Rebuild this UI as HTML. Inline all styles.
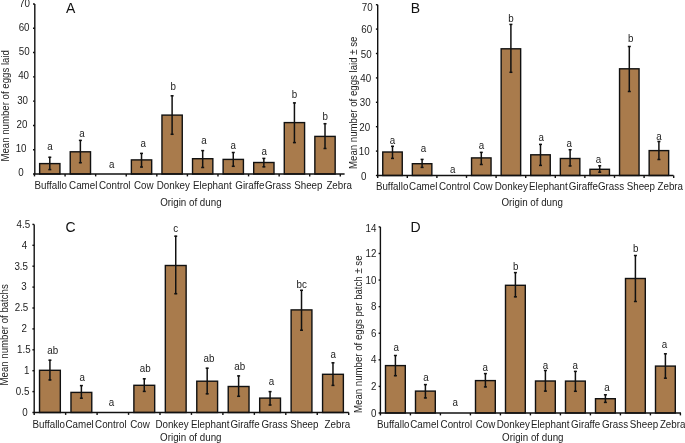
<!DOCTYPE html>
<html><head><meta charset="utf-8"><style>
html,body{margin:0;padding:0;background:#fff;}
body{width:685px;height:443px;overflow:hidden;}
svg{display:block;will-change:transform;}
text{font-family:"Liberation Sans",sans-serif;font-size:9.8px;fill:#222;}
text.l{font-size:9.8px;}
text.y{font-size:9.65px;}
text.p{font-size:14.0px;fill:#111;}
.k{stroke:#111;stroke-width:1.4;fill:none;}
.e{stroke:#111;stroke-width:1.5;fill:none;}
.bar{fill:#A97B4C;stroke:#111;stroke-width:1.4;}
</style></head><body>
<svg width="685" height="443" viewBox="0 0 685 443">
<line x1="34.8" y1="4.0" x2="34.8" y2="174.0" class="k"/>
<line x1="33.00" y1="174.00" x2="34.8" y2="174.00" class="k"/>
<line x1="33.00" y1="149.71" x2="34.8" y2="149.71" class="k"/>
<line x1="33.00" y1="125.43" x2="34.8" y2="125.43" class="k"/>
<line x1="33.00" y1="101.14" x2="34.8" y2="101.14" class="k"/>
<line x1="33.00" y1="76.86" x2="34.8" y2="76.86" class="k"/>
<line x1="33.00" y1="52.57" x2="34.8" y2="52.57" class="k"/>
<line x1="33.00" y1="28.29" x2="34.8" y2="28.29" class="k"/>
<line x1="33.00" y1="4.00" x2="34.8" y2="4.00" class="k"/>
<text transform="translate(20.90,176.45) scale(1,1.07)" text-anchor="middle">0</text>
<text transform="translate(21.10,152.16) scale(1,1.07)" text-anchor="middle">10</text>
<text transform="translate(21.95,127.88) scale(1,1.07)" text-anchor="middle">20</text>
<text transform="translate(22.60,103.59) scale(1,1.07)" text-anchor="middle">30</text>
<text transform="translate(23.60,79.31) scale(1,1.07)" text-anchor="middle">40</text>
<text transform="translate(24.20,55.02) scale(1,1.07)" text-anchor="middle">50</text>
<text transform="translate(24.10,30.74) scale(1,1.07)" text-anchor="middle">60</text>
<text transform="translate(24.60,7.25) scale(1,1.07)" text-anchor="middle">70</text>
<rect x="39.64" y="163.60" width="20.30" height="10.40" class="bar"/>
<line x1="49.79" y1="156.80" x2="49.79" y2="170.10" class="e"/>
<line x1="48.29" y1="157.30" x2="51.29" y2="157.30" class="e"/>
<line x1="48.29" y1="169.60" x2="51.29" y2="169.60" class="e"/>
<text transform="translate(50.00,150.10) scale(1,1.07)" text-anchor="middle" class="l">a</text>
<rect x="70.22" y="151.80" width="20.30" height="22.20" class="bar"/>
<line x1="80.37" y1="139.90" x2="80.37" y2="163.20" class="e"/>
<line x1="78.87" y1="140.40" x2="81.87" y2="140.40" class="e"/>
<line x1="78.87" y1="162.70" x2="81.87" y2="162.70" class="e"/>
<text transform="translate(82.00,136.90) scale(1,1.07)" text-anchor="middle" class="l">a</text>
<text transform="translate(111.60,168.40) scale(1,1.07)" text-anchor="middle" class="l">a</text>
<rect x="131.38" y="159.90" width="20.30" height="14.10" class="bar"/>
<line x1="141.53" y1="152.90" x2="141.53" y2="167.50" class="e"/>
<line x1="140.03" y1="153.40" x2="143.03" y2="153.40" class="e"/>
<line x1="140.03" y1="167.00" x2="143.03" y2="167.00" class="e"/>
<text transform="translate(143.10,146.60) scale(1,1.07)" text-anchor="middle" class="l">a</text>
<rect x="161.96" y="115.10" width="20.30" height="58.90" class="bar"/>
<line x1="172.11" y1="95.30" x2="172.11" y2="134.80" class="e"/>
<line x1="170.61" y1="95.80" x2="173.61" y2="95.80" class="e"/>
<line x1="170.61" y1="134.30" x2="173.61" y2="134.30" class="e"/>
<text transform="translate(173.30,90.40) scale(1,1.07)" text-anchor="middle" class="l">b</text>
<rect x="192.54" y="158.70" width="20.30" height="15.30" class="bar"/>
<line x1="202.69" y1="150.10" x2="202.69" y2="168.00" class="e"/>
<line x1="201.19" y1="150.60" x2="204.19" y2="150.60" class="e"/>
<line x1="201.19" y1="167.50" x2="204.19" y2="167.50" class="e"/>
<text transform="translate(204.00,144.30) scale(1,1.07)" text-anchor="middle" class="l">a</text>
<rect x="223.12" y="159.40" width="20.30" height="14.60" class="bar"/>
<line x1="233.27" y1="152.00" x2="233.27" y2="166.80" class="e"/>
<line x1="231.77" y1="152.50" x2="234.77" y2="152.50" class="e"/>
<line x1="231.77" y1="166.30" x2="234.77" y2="166.30" class="e"/>
<text transform="translate(233.10,149.00) scale(1,1.07)" text-anchor="middle" class="l">a</text>
<rect x="253.70" y="162.50" width="20.30" height="11.50" class="bar"/>
<line x1="263.85" y1="157.90" x2="263.85" y2="167.30" class="e"/>
<line x1="262.35" y1="158.40" x2="265.35" y2="158.40" class="e"/>
<line x1="262.35" y1="166.80" x2="265.35" y2="166.80" class="e"/>
<text transform="translate(264.10,155.40) scale(1,1.07)" text-anchor="middle" class="l">a</text>
<rect x="284.28" y="122.60" width="20.30" height="51.40" class="bar"/>
<line x1="294.43" y1="102.40" x2="294.43" y2="143.10" class="e"/>
<line x1="292.93" y1="102.90" x2="295.93" y2="102.90" class="e"/>
<line x1="292.93" y1="142.60" x2="295.93" y2="142.60" class="e"/>
<text transform="translate(294.40,98.20) scale(1,1.07)" text-anchor="middle" class="l">b</text>
<rect x="314.86" y="136.40" width="20.30" height="37.60" class="bar"/>
<line x1="325.01" y1="123.20" x2="325.01" y2="149.00" class="e"/>
<line x1="323.51" y1="123.70" x2="326.51" y2="123.70" class="e"/>
<line x1="323.51" y1="148.50" x2="326.51" y2="148.50" class="e"/>
<text transform="translate(325.10,120.20) scale(1,1.07)" text-anchor="middle" class="l">b</text>
<line x1="34.199999999999996" y1="174.0" x2="344.6" y2="174.0" class="k"/>
<line x1="34.50" y1="174.0" x2="34.50" y2="176.40" class="k"/>
<line x1="65.08" y1="174.0" x2="65.08" y2="176.40" class="k"/>
<line x1="95.66" y1="174.0" x2="95.66" y2="176.40" class="k"/>
<line x1="126.24" y1="174.0" x2="126.24" y2="176.40" class="k"/>
<line x1="156.82" y1="174.0" x2="156.82" y2="176.40" class="k"/>
<line x1="187.40" y1="174.0" x2="187.40" y2="176.40" class="k"/>
<line x1="217.98" y1="174.0" x2="217.98" y2="176.40" class="k"/>
<line x1="248.56" y1="174.0" x2="248.56" y2="176.40" class="k"/>
<line x1="279.14" y1="174.0" x2="279.14" y2="176.40" class="k"/>
<line x1="309.72" y1="174.0" x2="309.72" y2="176.40" class="k"/>
<line x1="340.30" y1="174.0" x2="340.30" y2="176.40" class="k"/>
<text transform="translate(34.50,189.10) scale(1,1.07)">Buffallo</text>
<text transform="translate(69.10,189.10) scale(1,1.07)">Camel</text>
<text transform="translate(99.00,189.10) scale(1,1.07)">Control</text>
<text transform="translate(134.00,189.10) scale(1,1.07)">Cow</text>
<text transform="translate(156.70,189.10) scale(1,1.07)">Donkey</text>
<text transform="translate(193.00,189.10) scale(1,1.07)">Elephant</text>
<text transform="translate(235.30,189.10) scale(1,1.07)">Giraffe</text>
<text transform="translate(265.00,189.10) scale(1,1.07)">Grass</text>
<text transform="translate(294.20,189.10) scale(1,1.07)">Sheep</text>
<text transform="translate(326.40,189.10) scale(1,1.07)">Zebra</text>
<text transform="translate(160.20,206.10) scale(1,1.07)">Origin of dung</text>
<text transform="translate(8.80,105.85) rotate(-90) scale(1,1.07)" text-anchor="middle" class="y">Mean number of eggs laid</text>
<text transform="translate(66.10,12.60) scale(1,1.05)" class="p">A</text>
<line x1="377.7" y1="4.7" x2="377.7" y2="175.5" class="k"/>
<line x1="375.90" y1="175.50" x2="377.7" y2="175.50" class="k"/>
<line x1="375.90" y1="151.10" x2="377.7" y2="151.10" class="k"/>
<line x1="375.90" y1="126.70" x2="377.7" y2="126.70" class="k"/>
<line x1="375.90" y1="102.30" x2="377.7" y2="102.30" class="k"/>
<line x1="375.90" y1="77.90" x2="377.7" y2="77.90" class="k"/>
<line x1="375.90" y1="53.50" x2="377.7" y2="53.50" class="k"/>
<line x1="375.90" y1="29.10" x2="377.7" y2="29.10" class="k"/>
<line x1="375.90" y1="4.70" x2="377.7" y2="4.70" class="k"/>
<text transform="translate(363.60,179.65) scale(1,1.07)" text-anchor="middle">0</text>
<text transform="translate(364.12,155.25) scale(1,1.07)" text-anchor="middle">10</text>
<text transform="translate(364.64,130.85) scale(1,1.07)" text-anchor="middle">20</text>
<text transform="translate(365.16,106.45) scale(1,1.07)" text-anchor="middle">30</text>
<text transform="translate(365.68,82.05) scale(1,1.07)" text-anchor="middle">40</text>
<text transform="translate(366.20,57.65) scale(1,1.07)" text-anchor="middle">50</text>
<text transform="translate(366.72,33.25) scale(1,1.07)" text-anchor="middle">60</text>
<text transform="translate(367.24,11.05) scale(1,1.07)" text-anchor="middle">70</text>
<rect x="382.75" y="152.00" width="19.50" height="23.50" class="bar"/>
<line x1="392.50" y1="145.80" x2="392.50" y2="158.90" class="e"/>
<line x1="391.00" y1="146.30" x2="394.00" y2="146.30" class="e"/>
<line x1="391.00" y1="158.40" x2="394.00" y2="158.40" class="e"/>
<text transform="translate(392.40,143.60) scale(1,1.07)" text-anchor="middle" class="l">a</text>
<rect x="412.35" y="163.70" width="19.50" height="11.80" class="bar"/>
<line x1="422.10" y1="158.90" x2="422.10" y2="167.90" class="e"/>
<line x1="420.60" y1="159.40" x2="423.60" y2="159.40" class="e"/>
<line x1="420.60" y1="167.40" x2="423.60" y2="167.40" class="e"/>
<text transform="translate(423.50,152.40) scale(1,1.07)" text-anchor="middle" class="l">a</text>
<text transform="translate(452.80,173.30) scale(1,1.07)" text-anchor="middle" class="l">a</text>
<rect x="471.55" y="157.90" width="19.50" height="17.60" class="bar"/>
<line x1="481.30" y1="151.90" x2="481.30" y2="165.00" class="e"/>
<line x1="479.80" y1="152.40" x2="482.80" y2="152.40" class="e"/>
<line x1="479.80" y1="164.50" x2="482.80" y2="164.50" class="e"/>
<text transform="translate(481.50,149.10) scale(1,1.07)" text-anchor="middle" class="l">a</text>
<rect x="501.15" y="48.80" width="19.50" height="126.70" class="bar"/>
<line x1="510.90" y1="23.90" x2="510.90" y2="72.80" class="e"/>
<line x1="509.40" y1="24.40" x2="512.40" y2="24.40" class="e"/>
<line x1="509.40" y1="72.30" x2="512.40" y2="72.30" class="e"/>
<text transform="translate(511.00,22.30) scale(1,1.07)" text-anchor="middle" class="l">b</text>
<rect x="530.75" y="154.80" width="19.50" height="20.70" class="bar"/>
<line x1="540.50" y1="143.90" x2="540.50" y2="165.90" class="e"/>
<line x1="539.00" y1="144.40" x2="542.00" y2="144.40" class="e"/>
<line x1="539.00" y1="165.40" x2="542.00" y2="165.40" class="e"/>
<text transform="translate(541.30,140.90) scale(1,1.07)" text-anchor="middle" class="l">a</text>
<rect x="560.35" y="158.50" width="19.50" height="17.00" class="bar"/>
<line x1="570.10" y1="149.20" x2="570.10" y2="166.40" class="e"/>
<line x1="568.60" y1="149.70" x2="571.60" y2="149.70" class="e"/>
<line x1="568.60" y1="165.90" x2="571.60" y2="165.90" class="e"/>
<text transform="translate(569.30,147.10) scale(1,1.07)" text-anchor="middle" class="l">a</text>
<rect x="589.95" y="169.30" width="19.50" height="6.20" class="bar"/>
<line x1="599.70" y1="165.30" x2="599.70" y2="172.70" class="e"/>
<line x1="598.20" y1="165.80" x2="601.20" y2="165.80" class="e"/>
<line x1="598.20" y1="172.20" x2="601.20" y2="172.20" class="e"/>
<text transform="translate(598.50,162.70) scale(1,1.07)" text-anchor="middle" class="l">a</text>
<rect x="619.55" y="68.80" width="19.50" height="106.70" class="bar"/>
<line x1="629.30" y1="46.00" x2="629.30" y2="92.00" class="e"/>
<line x1="627.80" y1="46.50" x2="630.80" y2="46.50" class="e"/>
<line x1="627.80" y1="91.50" x2="630.80" y2="91.50" class="e"/>
<text transform="translate(630.80,42.40) scale(1,1.07)" text-anchor="middle" class="l">b</text>
<rect x="649.15" y="150.60" width="19.50" height="24.90" class="bar"/>
<line x1="658.90" y1="141.00" x2="658.90" y2="160.00" class="e"/>
<line x1="657.40" y1="141.50" x2="660.40" y2="141.50" class="e"/>
<line x1="657.40" y1="159.50" x2="660.40" y2="159.50" class="e"/>
<text transform="translate(658.90,139.70) scale(1,1.07)" text-anchor="middle" class="l">a</text>
<line x1="377.09999999999997" y1="175.5" x2="673.5" y2="175.5" class="k"/>
<line x1="377.70" y1="175.5" x2="377.70" y2="177.90" class="k"/>
<line x1="407.30" y1="175.5" x2="407.30" y2="177.90" class="k"/>
<line x1="436.90" y1="175.5" x2="436.90" y2="177.90" class="k"/>
<line x1="466.50" y1="175.5" x2="466.50" y2="177.90" class="k"/>
<line x1="496.10" y1="175.5" x2="496.10" y2="177.90" class="k"/>
<line x1="525.70" y1="175.5" x2="525.70" y2="177.90" class="k"/>
<line x1="555.30" y1="175.5" x2="555.30" y2="177.90" class="k"/>
<line x1="584.90" y1="175.5" x2="584.90" y2="177.90" class="k"/>
<line x1="614.50" y1="175.5" x2="614.50" y2="177.90" class="k"/>
<line x1="644.10" y1="175.5" x2="644.10" y2="177.90" class="k"/>
<line x1="673.70" y1="175.5" x2="673.70" y2="177.90" class="k"/>
<text transform="translate(375.90,189.60) scale(1,1.07)">Buffallo</text>
<text transform="translate(409.10,189.60) scale(1,1.07)">Camel</text>
<text transform="translate(439.00,189.60) scale(1,1.07)">Control</text>
<text transform="translate(472.90,189.60) scale(1,1.07)">Cow</text>
<text transform="translate(494.80,189.60) scale(1,1.07)">Donkey</text>
<text transform="translate(529.10,189.60) scale(1,1.07)">Elephant</text>
<text transform="translate(568.80,189.60) scale(1,1.07)">Giraffe</text>
<text transform="translate(598.00,189.60) scale(1,1.07)">Grass</text>
<text transform="translate(626.70,189.60) scale(1,1.07)">Sheep</text>
<text transform="translate(657.50,189.60) scale(1,1.07)">Zebra</text>
<text transform="translate(501.50,206.10) scale(1,1.07)">Origin of dung</text>
<text transform="translate(357.20,102.80) rotate(-90) scale(1,1.07)" text-anchor="middle" class="y">Mean number of eggs laid ± se</text>
<text transform="translate(410.80,12.90) scale(1,1.05)" class="p">B</text>
<line x1="34.2" y1="224.4" x2="34.2" y2="412.5" class="k"/>
<line x1="32.40" y1="412.50" x2="34.2" y2="412.50" class="k"/>
<line x1="32.40" y1="391.60" x2="34.2" y2="391.60" class="k"/>
<line x1="32.40" y1="370.70" x2="34.2" y2="370.70" class="k"/>
<line x1="32.40" y1="349.80" x2="34.2" y2="349.80" class="k"/>
<line x1="32.40" y1="328.90" x2="34.2" y2="328.90" class="k"/>
<line x1="32.40" y1="308.00" x2="34.2" y2="308.00" class="k"/>
<line x1="32.40" y1="287.10" x2="34.2" y2="287.10" class="k"/>
<line x1="32.40" y1="266.20" x2="34.2" y2="266.20" class="k"/>
<line x1="32.40" y1="245.30" x2="34.2" y2="245.30" class="k"/>
<line x1="32.40" y1="224.40" x2="34.2" y2="224.40" class="k"/>
<text transform="translate(25.00,415.85) scale(1,1.07)" text-anchor="middle">0</text>
<text transform="translate(22.60,394.95) scale(1,1.07)" text-anchor="middle">0.5</text>
<text transform="translate(26.60,374.05) scale(1,1.07)" text-anchor="middle">1</text>
<text transform="translate(23.90,353.15) scale(1,1.07)" text-anchor="middle">1.5</text>
<text transform="translate(24.10,332.25) scale(1,1.07)" text-anchor="middle">2</text>
<text transform="translate(21.50,311.35) scale(1,1.07)" text-anchor="middle">2.5</text>
<text transform="translate(24.00,290.45) scale(1,1.07)" text-anchor="middle">3</text>
<text transform="translate(21.20,269.55) scale(1,1.07)" text-anchor="middle">3.5</text>
<text transform="translate(24.40,248.65) scale(1,1.07)" text-anchor="middle">4</text>
<text transform="translate(23.40,227.75) scale(1,1.07)" text-anchor="middle">4.5</text>
<rect x="39.53" y="370.30" width="20.80" height="42.20" class="bar"/>
<line x1="49.93" y1="359.70" x2="49.93" y2="380.40" class="e"/>
<line x1="48.43" y1="360.20" x2="51.43" y2="360.20" class="e"/>
<line x1="48.43" y1="379.90" x2="51.43" y2="379.90" class="e"/>
<text transform="translate(52.80,353.90) scale(1,1.07)" text-anchor="middle" class="l">ab</text>
<rect x="70.97" y="392.40" width="20.80" height="20.10" class="bar"/>
<line x1="81.38" y1="385.10" x2="81.38" y2="398.70" class="e"/>
<line x1="79.88" y1="385.60" x2="82.88" y2="385.60" class="e"/>
<line x1="79.88" y1="398.20" x2="82.88" y2="398.20" class="e"/>
<text transform="translate(82.10,380.60) scale(1,1.07)" text-anchor="middle" class="l">a</text>
<text transform="translate(111.50,405.70) scale(1,1.07)" text-anchor="middle" class="l">a</text>
<rect x="133.88" y="385.30" width="20.80" height="27.20" class="bar"/>
<line x1="144.28" y1="378.30" x2="144.28" y2="391.90" class="e"/>
<line x1="142.78" y1="378.80" x2="145.78" y2="378.80" class="e"/>
<line x1="142.78" y1="391.40" x2="145.78" y2="391.40" class="e"/>
<text transform="translate(145.30,372.20) scale(1,1.07)" text-anchor="middle" class="l">ab</text>
<rect x="165.33" y="265.50" width="20.80" height="147.00" class="bar"/>
<line x1="175.73" y1="235.70" x2="175.73" y2="294.20" class="e"/>
<line x1="174.23" y1="236.20" x2="177.23" y2="236.20" class="e"/>
<line x1="174.23" y1="293.70" x2="177.23" y2="293.70" class="e"/>
<text transform="translate(175.80,232.10) scale(1,1.07)" text-anchor="middle" class="l">c</text>
<rect x="196.78" y="381.20" width="20.80" height="31.30" class="bar"/>
<line x1="207.18" y1="367.70" x2="207.18" y2="394.30" class="e"/>
<line x1="205.68" y1="368.20" x2="208.68" y2="368.20" class="e"/>
<line x1="205.68" y1="393.80" x2="208.68" y2="393.80" class="e"/>
<text transform="translate(209.00,361.60) scale(1,1.07)" text-anchor="middle" class="l">ab</text>
<rect x="228.22" y="386.50" width="20.80" height="26.00" class="bar"/>
<line x1="238.62" y1="375.40" x2="238.62" y2="396.80" class="e"/>
<line x1="237.12" y1="375.90" x2="240.12" y2="375.90" class="e"/>
<line x1="237.12" y1="396.30" x2="240.12" y2="396.30" class="e"/>
<text transform="translate(239.70,369.80) scale(1,1.07)" text-anchor="middle" class="l">ab</text>
<rect x="259.68" y="398.10" width="20.80" height="14.40" class="bar"/>
<line x1="270.07" y1="391.10" x2="270.07" y2="405.50" class="e"/>
<line x1="268.57" y1="391.60" x2="271.57" y2="391.60" class="e"/>
<line x1="268.57" y1="405.00" x2="271.57" y2="405.00" class="e"/>
<text transform="translate(271.40,385.20) scale(1,1.07)" text-anchor="middle" class="l">a</text>
<rect x="291.12" y="309.90" width="20.80" height="102.60" class="bar"/>
<line x1="301.52" y1="289.80" x2="301.52" y2="330.70" class="e"/>
<line x1="300.02" y1="290.30" x2="303.02" y2="290.30" class="e"/>
<line x1="300.02" y1="330.20" x2="303.02" y2="330.20" class="e"/>
<text transform="translate(301.60,288.30) scale(1,1.07)" text-anchor="middle" class="l">bc</text>
<rect x="322.57" y="374.30" width="20.80" height="38.20" class="bar"/>
<line x1="332.97" y1="362.30" x2="332.97" y2="385.90" class="e"/>
<line x1="331.47" y1="362.80" x2="334.47" y2="362.80" class="e"/>
<line x1="331.47" y1="385.40" x2="334.47" y2="385.40" class="e"/>
<text transform="translate(333.20,358.40) scale(1,1.07)" text-anchor="middle" class="l">a</text>
<line x1="33.6" y1="412.5" x2="348.8" y2="412.5" class="k"/>
<line x1="34.20" y1="412.5" x2="34.20" y2="414.90" class="k"/>
<line x1="65.65" y1="412.5" x2="65.65" y2="414.90" class="k"/>
<line x1="97.10" y1="412.5" x2="97.10" y2="414.90" class="k"/>
<line x1="128.55" y1="412.5" x2="128.55" y2="414.90" class="k"/>
<line x1="160.00" y1="412.5" x2="160.00" y2="414.90" class="k"/>
<line x1="191.45" y1="412.5" x2="191.45" y2="414.90" class="k"/>
<line x1="222.90" y1="412.5" x2="222.90" y2="414.90" class="k"/>
<line x1="254.35" y1="412.5" x2="254.35" y2="414.90" class="k"/>
<line x1="285.80" y1="412.5" x2="285.80" y2="414.90" class="k"/>
<line x1="317.25" y1="412.5" x2="317.25" y2="414.90" class="k"/>
<line x1="348.70" y1="412.5" x2="348.70" y2="414.90" class="k"/>
<text transform="translate(32.50,428.30) scale(1,1.07)">Buffallo</text>
<text transform="translate(65.50,428.30) scale(1,1.07)">Camel</text>
<text transform="translate(95.10,428.30) scale(1,1.07)">Control</text>
<text transform="translate(130.20,428.30) scale(1,1.07)">Cow</text>
<text transform="translate(155.40,428.30) scale(1,1.07)">Donkey</text>
<text transform="translate(190.90,428.30) scale(1,1.07)">Elephant</text>
<text transform="translate(230.40,428.30) scale(1,1.07)">Giraffe</text>
<text transform="translate(261.50,428.30) scale(1,1.07)">Grass</text>
<text transform="translate(290.20,428.30) scale(1,1.07)">Sheep</text>
<text transform="translate(324.60,428.30) scale(1,1.07)">Zebra</text>
<text transform="translate(160.10,441.10) scale(1,1.07)">Origin of dung</text>
<text transform="translate(7.80,334.85) rotate(-90) scale(1,1.07)" text-anchor="middle" class="y">Mean number of batchs</text>
<text transform="translate(65.50,231.90) scale(1,1.05)" class="p">C</text>
<line x1="380.4" y1="226.9" x2="380.4" y2="413.0" class="k"/>
<line x1="378.60" y1="413.00" x2="380.4" y2="413.00" class="k"/>
<line x1="378.60" y1="386.41" x2="380.4" y2="386.41" class="k"/>
<line x1="378.60" y1="359.83" x2="380.4" y2="359.83" class="k"/>
<line x1="378.60" y1="333.24" x2="380.4" y2="333.24" class="k"/>
<line x1="378.60" y1="306.66" x2="380.4" y2="306.66" class="k"/>
<line x1="378.60" y1="280.07" x2="380.4" y2="280.07" class="k"/>
<line x1="378.60" y1="253.48" x2="380.4" y2="253.48" class="k"/>
<line x1="378.60" y1="226.90" x2="380.4" y2="226.90" class="k"/>
<text transform="translate(376.50,416.60) scale(1,1.07)" text-anchor="end">0</text>
<text transform="translate(376.50,390.01) scale(1,1.07)" text-anchor="end">2</text>
<text transform="translate(376.50,363.43) scale(1,1.07)" text-anchor="end">4</text>
<text transform="translate(376.50,336.84) scale(1,1.07)" text-anchor="end">6</text>
<text transform="translate(376.50,310.26) scale(1,1.07)" text-anchor="end">8</text>
<text transform="translate(376.50,283.67) scale(1,1.07)" text-anchor="end">10</text>
<text transform="translate(376.50,257.08) scale(1,1.07)" text-anchor="end">12</text>
<text transform="translate(376.50,232.00) scale(1,1.07)" text-anchor="end">14</text>
<rect x="385.50" y="365.60" width="19.80" height="47.40" class="bar"/>
<line x1="395.40" y1="355.00" x2="395.40" y2="376.20" class="e"/>
<line x1="393.90" y1="355.50" x2="396.90" y2="355.50" class="e"/>
<line x1="393.90" y1="375.70" x2="396.90" y2="375.70" class="e"/>
<text transform="translate(396.10,351.20) scale(1,1.07)" text-anchor="middle" class="l">a</text>
<rect x="415.50" y="391.10" width="19.80" height="21.90" class="bar"/>
<line x1="425.40" y1="384.10" x2="425.40" y2="398.40" class="e"/>
<line x1="423.90" y1="384.60" x2="426.90" y2="384.60" class="e"/>
<line x1="423.90" y1="397.90" x2="426.90" y2="397.90" class="e"/>
<text transform="translate(425.90,381.20) scale(1,1.07)" text-anchor="middle" class="l">a</text>
<text transform="translate(455.30,405.60) scale(1,1.07)" text-anchor="middle" class="l">a</text>
<rect x="475.50" y="380.60" width="19.80" height="32.40" class="bar"/>
<line x1="485.40" y1="373.10" x2="485.40" y2="387.40" class="e"/>
<line x1="483.90" y1="373.60" x2="486.90" y2="373.60" class="e"/>
<line x1="483.90" y1="386.90" x2="486.90" y2="386.90" class="e"/>
<text transform="translate(485.10,371.00) scale(1,1.07)" text-anchor="middle" class="l">a</text>
<rect x="505.50" y="285.30" width="19.80" height="127.70" class="bar"/>
<line x1="515.40" y1="272.10" x2="515.40" y2="297.30" class="e"/>
<line x1="513.90" y1="272.60" x2="516.90" y2="272.60" class="e"/>
<line x1="513.90" y1="296.80" x2="516.90" y2="296.80" class="e"/>
<text transform="translate(515.60,270.20) scale(1,1.07)" text-anchor="middle" class="l">b</text>
<rect x="535.50" y="381.00" width="19.80" height="32.00" class="bar"/>
<line x1="545.40" y1="370.00" x2="545.40" y2="391.60" class="e"/>
<line x1="543.90" y1="370.50" x2="546.90" y2="370.50" class="e"/>
<line x1="543.90" y1="391.10" x2="546.90" y2="391.10" class="e"/>
<text transform="translate(545.40,368.70) scale(1,1.07)" text-anchor="middle" class="l">a</text>
<rect x="565.50" y="381.10" width="19.80" height="31.90" class="bar"/>
<line x1="575.40" y1="370.90" x2="575.40" y2="391.80" class="e"/>
<line x1="573.90" y1="371.40" x2="576.90" y2="371.40" class="e"/>
<line x1="573.90" y1="391.30" x2="576.90" y2="391.30" class="e"/>
<text transform="translate(575.20,368.70) scale(1,1.07)" text-anchor="middle" class="l">a</text>
<rect x="595.50" y="398.70" width="19.80" height="14.30" class="bar"/>
<line x1="605.40" y1="394.30" x2="605.40" y2="402.90" class="e"/>
<line x1="603.90" y1="394.80" x2="606.90" y2="394.80" class="e"/>
<line x1="603.90" y1="402.40" x2="606.90" y2="402.40" class="e"/>
<text transform="translate(606.90,391.30) scale(1,1.07)" text-anchor="middle" class="l">a</text>
<rect x="625.50" y="278.50" width="19.80" height="134.50" class="bar"/>
<line x1="635.40" y1="255.00" x2="635.40" y2="302.00" class="e"/>
<line x1="633.90" y1="255.50" x2="636.90" y2="255.50" class="e"/>
<line x1="633.90" y1="301.50" x2="636.90" y2="301.50" class="e"/>
<text transform="translate(635.80,252.00) scale(1,1.07)" text-anchor="middle" class="l">b</text>
<rect x="655.50" y="366.10" width="19.80" height="46.90" class="bar"/>
<line x1="665.40" y1="353.30" x2="665.40" y2="378.70" class="e"/>
<line x1="663.90" y1="353.80" x2="666.90" y2="353.80" class="e"/>
<line x1="663.90" y1="378.20" x2="666.90" y2="378.20" class="e"/>
<text transform="translate(664.40,348.30) scale(1,1.07)" text-anchor="middle" class="l">a</text>
<line x1="379.79999999999995" y1="413.0" x2="681.0" y2="413.0" class="k"/>
<line x1="380.40" y1="413.0" x2="380.40" y2="415.40" class="k"/>
<line x1="410.40" y1="413.0" x2="410.40" y2="415.40" class="k"/>
<line x1="440.40" y1="413.0" x2="440.40" y2="415.40" class="k"/>
<line x1="470.40" y1="413.0" x2="470.40" y2="415.40" class="k"/>
<line x1="500.40" y1="413.0" x2="500.40" y2="415.40" class="k"/>
<line x1="530.40" y1="413.0" x2="530.40" y2="415.40" class="k"/>
<line x1="560.40" y1="413.0" x2="560.40" y2="415.40" class="k"/>
<line x1="590.40" y1="413.0" x2="590.40" y2="415.40" class="k"/>
<line x1="620.40" y1="413.0" x2="620.40" y2="415.40" class="k"/>
<line x1="650.40" y1="413.0" x2="650.40" y2="415.40" class="k"/>
<line x1="680.40" y1="413.0" x2="680.40" y2="415.40" class="k"/>
<text transform="translate(377.10,428.30) scale(1,1.07)">Buffallo</text>
<text transform="translate(410.30,428.30) scale(1,1.07)">Camel</text>
<text transform="translate(440.60,428.30) scale(1,1.07)">Control</text>
<text transform="translate(475.70,428.30) scale(1,1.07)">Cow</text>
<text transform="translate(496.70,428.30) scale(1,1.07)">Donkey</text>
<text transform="translate(530.90,428.30) scale(1,1.07)">Elephant</text>
<text transform="translate(571.10,428.30) scale(1,1.07)">Giraffe</text>
<text transform="translate(602.00,428.30) scale(1,1.07)">Grass</text>
<text transform="translate(629.80,428.30) scale(1,1.07)">Sheep</text>
<text transform="translate(659.90,428.30) scale(1,1.07)">Zebra</text>
<text transform="translate(502.10,441.10) scale(1,1.07)">Origin of dung</text>
<text transform="translate(362.00,334.20) rotate(-90) scale(1,1.07)" text-anchor="middle" class="y">Mean number of eggs per batch ± se</text>
<text transform="translate(410.50,231.90) scale(1,1.05)" class="p">D</text>
</svg>
</body></html>
